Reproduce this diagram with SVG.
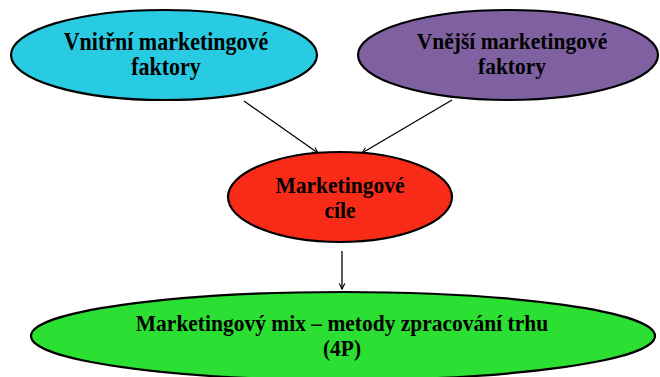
<svg xmlns="http://www.w3.org/2000/svg" width="660" height="377" viewBox="0 0 660 377">
  <style>
    .node ellipse { stroke: #000; stroke-width: 2.2; }
    .label { font-family: "Liberation Serif", "Times New Roman", serif; font-weight: bold; fill: #000; text-anchor: middle; }
    .edge { stroke: #000; stroke-width: 1.3; fill: none; marker-end: url(#arrow); }
  </style>
  <defs>
    <marker id="arrow" viewBox="0 0 10 10" refX="9" refY="5" markerWidth="7" markerHeight="7" markerUnits="userSpaceOnUse" orient="auto">
      <path d="M1,1 L9,5 L1,9" fill="none" stroke="#000" stroke-width="1.6"/>
    </marker>
  </defs>
  <rect width="660" height="377" fill="#fff"/>

  <g id="connectors">
    <line class="edge" x1="244" y1="101" x2="318" y2="153"/>
    <line class="edge" x1="452" y1="100" x2="362" y2="153"/>
    <line class="edge" x1="342" y1="251" x2="342" y2="289"/>
  </g>

  <g id="internal-factors" class="node">
    <ellipse cx="164" cy="55" rx="153" ry="45" fill="#29CBE2"/>
    <text class="label" font-size="22" transform="translate(166 50) scale(1 1.12)">Vnitřní marketingové</text>
    <text class="label" font-size="22" transform="translate(166 75) scale(1 1.12)">faktory</text>
  </g>

  <g id="external-factors" class="node">
    <ellipse cx="508" cy="55" rx="150" ry="45" fill="#7F61A1"/>
    <text class="label" font-size="21.5" transform="translate(512 49) scale(1 1.12)">Vnější marketingové</text>
    <text class="label" font-size="21.5" transform="translate(512 74) scale(1 1.12)">faktory</text>
  </g>

  <g id="goals" class="node">
    <ellipse cx="340" cy="197" rx="112" ry="45" fill="#F72B18"/>
    <text class="label" font-size="21.5" transform="translate(340 193) scale(1 1.12)">Marketingové</text>
    <text class="label" font-size="21.5" transform="translate(340 218) scale(1 1.12)">cíle</text>
  </g>

  <g id="marketing-mix" class="node">
    <ellipse cx="343" cy="336" rx="312" ry="44" fill="#2CE033"/>
    <text class="label" font-size="21.5" transform="translate(342 331) scale(1 1.12)">Marketingový mix – metody zpracování trhu</text>
    <text class="label" font-size="21.5" transform="translate(342 356) scale(1 1.12)">(4P)</text>
  </g>
</svg>
